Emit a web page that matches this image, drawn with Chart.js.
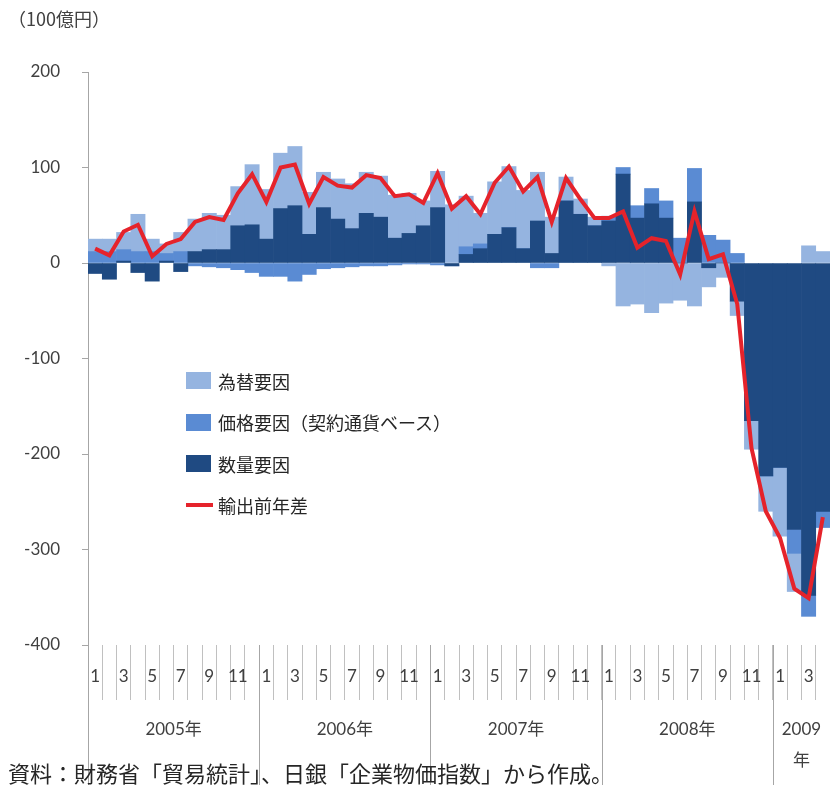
<!DOCTYPE html>
<html lang="ja">
<head>
<meta charset="UTF-8">
<title>輸出前年差の要因分解</title>
<script src="https://cdn.jsdelivr.net/npm/chart.js@4"></script>
<style>
  body { margin: 0; background: #fff; }
  .wrap { position: relative; width: 830px; height: 785px; overflow: hidden; font-family: Lato, "Noto Sans CJK JP", sans-serif; }
  .unit { position: absolute; left: 8px; top: 5px; font-size: 18px; color: #404040; font-family: "Noto Sans CJK JP"; }
  .legend { position: absolute; left: 186px; top: 360px; font-size: 18px; color: #262626; font-family: "Noto Sans CJK JP"; }
  .legend div { height: 41.5px; display: flex; align-items: center; }
  .legend .box { display: inline-block; width: 25px; height: 17px; margin-right: 7px; }
  .legend .ln { display: inline-block; width: 27px; height: 4px; background: #E5232B; margin-right: 5px; }
  .note { position: absolute; left: 8px; top: 756px; font-size: 22px; color: #262626; font-family: "Noto Sans CJK JP"; white-space: nowrap; }
</style>
</head>
<body>
<div class="wrap">
  <canvas id="grafico" width="830" height="785"></canvas>
  <div class="unit">（100億円）</div>
  <div class="legend">
    <div><span class="box" style="background:#95B4E0"></span>為替要因</div>
    <div><span class="box" style="background:#5A8BD3"></span>価格要因（契約通貨ベース）</div>
    <div><span class="box" style="background:#1F4A82"></span>数量要因</div>
    <div><span class="ln"></span>輸出前年差</div>
  </div>
  <div class="note">資料：財務省「貿易統計」、日銀「企業物価指数」から作成。</div>
</div>

<script>
  // 2005年1月 〜 2009年4月
  var meses = [
    '2005/1', '2005/2', '2005/3', '2005/4', '2005/5', '2005/6', '2005/7', '2005/8', '2005/9', '2005/10', '2005/11', '2005/12',
    '2006/1', '2006/2', '2006/3', '2006/4', '2006/5', '2006/6', '2006/7', '2006/8', '2006/9', '2006/10', '2006/11', '2006/12',
    '2007/1', '2007/2', '2007/3', '2007/4', '2007/5', '2007/6', '2007/7', '2007/8', '2007/9', '2007/10', '2007/11', '2007/12',
    '2008/1', '2008/2', '2008/3', '2008/4', '2008/5', '2008/6', '2008/7', '2008/8', '2008/9', '2008/10', '2008/11', '2008/12',
    '2009/1', '2009/2', '2009/3', '2009/4'
  ];

  var anos = [['2005年'], ['2006年'], ['2007年'], ['2008年'], ['2009', '年']];
  var inicioAno = [0, 12, 24, 36, 48];

  // 数量要因
  var quantidade = [
    -11, -17, 2, -10, -19, 2, -9, 12, 14, 14, 39, 40,
    25, 57, 60, 30, 58, 46, 36, 52, 48, 26, 31, 39,
    58, -3, 9, 15, 30, 37, 15, 44, 10, 65, 51, 39,
    44, 93, 47, 62, 47, 0, 64, -5, 0, -40, -165, -223,
    -214, -279, -348, -260
  ];

  // 価格要因（契約通貨ベース）
  var preco = [
    12, 12, 12, 12, 12, 8, 12, -3, -4, -5, -7, -10,
    -14, -14, -19, -12, -6, -5, -4, -3, -3, -2, -1, -1,
    -2, 0, 8, 5, 0, 0, 0, -5, -5, 0, 0, 0,
    5, 7, 13, 16, 18, 26, 35, 29, 24, 10, 0, 0,
    0, -25, -22, -17
  ];

  // 為替要因
  var cambio = [
    13, 13, 18, 39, 13, 10, 20, 34, 38, 36, 41, 63,
    52, 58, 62, 44, 37, 42, 47, 43, 43, 45, 42, 26,
    38, 61, 53, 32, 55, 64, 61, 51, 38, 25, 16, 9,
    -3, -45, -43, -52, -42, -39, -45, -20, -15, -15, -30, -37,
    -72, -40, 18, 12
  ];

  // 輸出前年差
  var diferenca = [
    15, 8, 33, 40, 7, 20, 25, 43, 48, 45, 73, 93,
    64, 100, 103, 62, 90, 81, 79, 92, 89, 70, 72, 63,
    94, 57, 70, 51, 84, 101, 75, 90, 43, 89, 67, 47,
    47, 54, 16, 26, 23, -12, 54, 4, 9, -43, -194, -260,
    -288, -341, -351, -266
  ];

  // linhas dos anos e rótulos embaixo do eixo
  const eixoAnos = {
    id: 'eixoAnos',
    afterDraw(chart) {
      const ctx = chart.ctx;
      const x = chart.scales.x;
      const base = chart.chartArea.bottom;
      const meio = (x.getPixelForValue(1) - x.getPixelForValue(0)) / 2;
      ctx.save();
      ctx.strokeStyle = '#A6A6A6';
      ctx.lineWidth = 1;
      ctx.fillStyle = '#404040';
      ctx.font = '17px Lato, "Noto Sans CJK JP"';
      ctx.textAlign = 'center';
      ctx.textBaseline = 'middle';
      for (var k = 0; k < inicioAno.length; k++) {
        var esq = x.getPixelForValue(inicioAno[k]) - meio;
        var dir = k + 1 < inicioAno.length ? x.getPixelForValue(inicioAno[k + 1]) - meio : x.getPixelForValue(meses.length - 1) + meio;
        var px = Math.round(esq) + 0.5;
        ctx.beginPath();
        ctx.moveTo(px, base);
        ctx.lineTo(px, 785);
        ctx.stroke();
        var cx = (esq + dir) / 2;
        for (var j = 0; j < anos[k].length; j++) {
          ctx.fillText(anos[k][j], cx, 730 + j * 31);
        }
      }
      ctx.restore();
    }
  };

  const config = {
    data: {
      labels: meses,
      datasets: [
        {
          type: 'line',
          label: '輸出前年差',
          data: diferenca,
          borderColor: '#E5232B',
          borderWidth: 4,
          pointRadius: 0,
          tension: 0,
          stack: 'linha',
          order: 0
        },
        {
          type: 'bar',
          label: '数量要因',
          data: quantidade,
          backgroundColor: '#1F4A82',
          stack: 'barras',
          order: 1
        },
        {
          type: 'bar',
          label: '価格要因（契約通貨ベース）',
          data: preco,
          backgroundColor: '#5A8BD3',
          stack: 'barras',
          order: 1
        },
        {
          type: 'bar',
          label: '為替要因',
          data: cambio,
          backgroundColor: '#95B4E0',
          stack: 'barras',
          order: 1
        }
      ]
    },
    options: {
      responsive: false,
      animation: false,
      layout: { padding: { top: 72, left: 0, right: 0, bottom: 0 } },
      datasets: {
        bar: { barPercentage: 1, categoryPercentage: 1, borderWidth: 0 }
      },
      plugins: {
        legend: { display: false },
        tooltip: { enabled: false }
      },
      scales: {
        x: {
          stacked: true,
          offset: true,
          border: { display: false },
          grid: { offset: true, drawOnChartArea: false, drawTicks: true, tickLength: 55, color: '#C0C0C0' },
          ticks: {
            autoSkip: false,
            maxRotation: 0,
            minRotation: 0,
            padding: -34,
            color: '#404040',
            font: { family: 'Lato', size: 17 },
            callback: function (v, i) {
              var m = Number(meses[i].split('/')[1]);
              return m % 2 == 1 ? String(m) : '';
            }
          },
          afterFit: function (s) { s.height = 140; }
        },
        y: {
          stacked: true,
          min: -400,
          max: 200,
          border: { display: true, color: '#A6A6A6' },
          grid: { drawOnChartArea: false, drawTicks: true, tickLength: 6, color: '#A6A6A6' },
          ticks: {
            stepSize: 100,
            padding: 22,
            color: '#404040',
            font: { family: 'Lato', size: 17 }
          },
          afterFit: function (s) { s.width = 88; }
        }
      }
    },
    plugins: [eixoAnos]
  };

  new Chart(document.getElementById('grafico'), config);
</script>
</body>
</html>
